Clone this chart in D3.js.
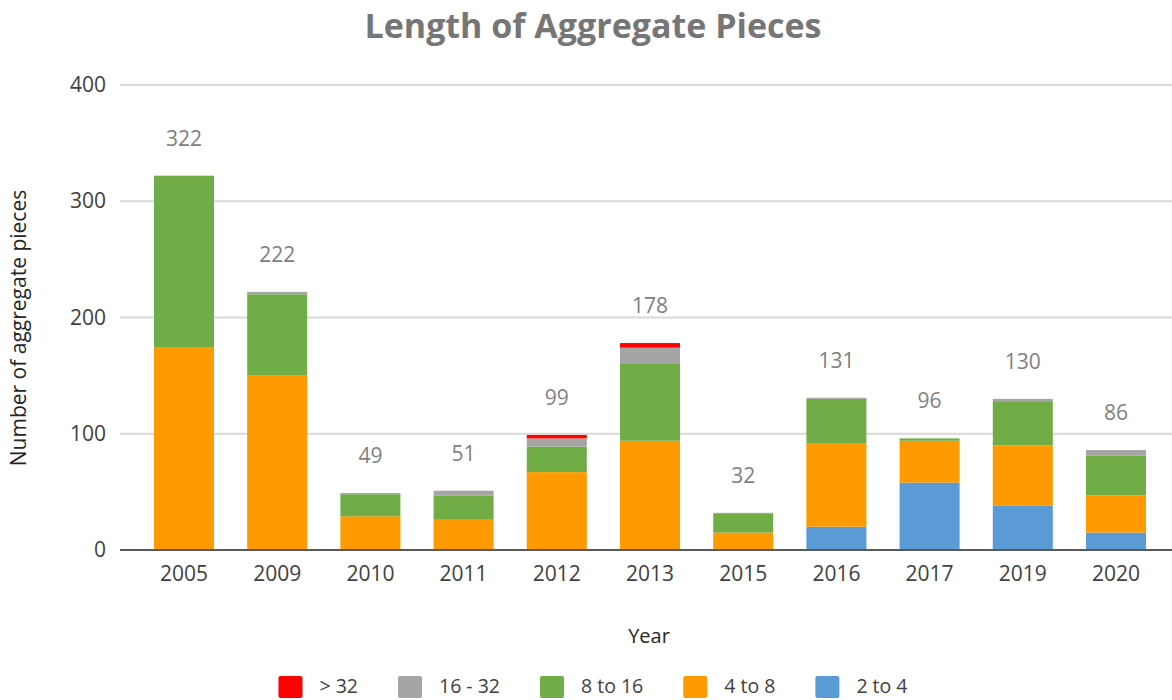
<!DOCTYPE html>
<html><head><meta charset="utf-8">
<script src="https://cdn.jsdelivr.net/npm/d3@7"></script>
<style>body{margin:0;background:#fff;} svg{display:block;}</style>
</head><body>
<svg id="chart" width="1172" height="700"></svg>
<script>
const years = ["2005","2009","2010","2011","2012","2013","2015","2016","2017","2019","2020"];
const seriesNames = ["2 to 4","4 to 8","8 to 16","16 - 32","> 32"];
const s2to4   = [0,   0,   0,  0,  0,  0,  0, 20, 58, 38, 15];
const s4to8   = [174, 150, 29, 26, 67, 94, 15, 72, 36, 52, 32];
const s8to16  = [148, 70,  19, 21, 22, 66, 16, 38,  2, 38, 34];
const s16to32 = [0,   2,   1,  4,  7, 14,  1,  1,  0,  2,  5];
const sOver32 = [0,   0,   0,  0,  3,  4,  0,  0,  0,  0,  0];
const totals  = [322, 222, 49, 51, 99, 178, 32, 131, 96, 130, 86];
const yTicks  = [0, 100, 200, 300, 400];
const colors  = {"2 to 4":"#5B9BD5","4 to 8":"#FF9A00","8 to 16":"#70AD47","16 - 32":"#A5A5A5","> 32":"#FF0000"};
const legendOrder = ["> 32","16 - 32","8 to 16","4 to 8","2 to 4"];

const seriesVals = {"2 to 4":s2to4,"4 to 8":s4to8,"8 to 16":s8to16,"16 - 32":s16to32,"> 32":sOver32};
const table = years.map((y,i)=>{const o={year:y}; seriesNames.forEach(n=>o[n]=seriesVals[n][i]); o.total=totals[i]; return o;});

const font = "'Open Sans', 'Noto Sans', sans-serif";
const svg = d3.select("#chart");
const gridLeft = 120, gridRight = 1172;
const x = d3.scaleBand().domain(years).range([137.4, 1162.6]).paddingInner(0.356).paddingOuter(0.178);
const y = d3.scaleLinear().domain([0,400]).range([550, 85]);

// gridlines
svg.append("g").selectAll("line").data(yTicks.filter(t=>t>0)).join("line")
  .attr("x1",gridLeft).attr("x2",gridRight).attr("y1",d=>y(d)).attr("y2",d=>y(d))
  .attr("stroke","#d9d9d9").attr("stroke-width",2);

// y axis labels
const yAxis = svg.append("g").attr("transform",`translate(${gridLeft},0)`)
  .call(d3.axisLeft(y).tickValues(yTicks).tickSize(0).tickPadding(14));
yAxis.select(".domain").remove();
yAxis.selectAll("text").attr("font-family",font).attr("font-size",21).attr("fill","#404040");

// bars
const stack = d3.stack().keys(seriesNames)(table);
svg.append("g").selectAll("g").data(stack).join("g")
  .attr("fill",d=>colors[d.key])
  .selectAll("rect").data(d=>d).join("rect")
  .attr("x",d=>x(d.data.year)).attr("width",x.bandwidth())
  .attr("y",d=>y(d[1])).attr("height",d=>Math.max(0,y(d[0])-y(d[1])));

// x axis
const xAxis = svg.append("g").attr("transform","translate(0,550)")
  .call(d3.axisBottom(x).tickSize(0).tickPadding(16));
xAxis.select(".domain").remove();
xAxis.selectAll("text").attr("font-family",font).attr("font-size",21).attr("fill","#404040");
svg.append("line").attr("x1",gridLeft).attr("x2",gridRight).attr("y1",550).attr("y2",550)
  .attr("stroke","#595959").attr("stroke-width",2);

// total labels
svg.append("g").selectAll("text").data(table).join("text")
  .attr("x",d=>x(d.year)+x.bandwidth()/2).attr("y",d=>y(d.total)-30)
  .attr("text-anchor","middle").attr("font-family",font).attr("font-size",21).attr("fill","#808080")
  .text(d=>d.total);

// title
svg.append("text").attr("x",593).attr("y",38).attr("text-anchor","middle")
  .attr("font-family",font).attr("font-size",34).attr("font-weight","bold").attr("fill","#767676")
  .text("Length of Aggregate Pieces");

// axis titles
svg.append("text").attr("x",649).attr("y",643).attr("text-anchor","middle")
  .attr("font-family",font).attr("font-size",20).attr("fill","#262626").text("Year");
svg.append("text").attr("transform","translate(26,328) rotate(-90)").attr("text-anchor","middle")
  .attr("font-family",font).attr("font-size",21).attr("fill","#262626").text("Number of aggregate pieces");

// legend
const lg = svg.append("g");
const items = lg.selectAll("g").data(legendOrder).join("g");
items.append("rect").attr("width",24).attr("height",22).attr("y",676).attr("rx",2).attr("fill",d=>colors[d]);
items.append("text").attr("x",41).attr("y",693).attr("font-family",font).attr("font-size",19.5).attr("fill","#404040").text(d=>d);
let cx = 0; const widths=[];
items.each(function(){ const w = 41 + this.querySelector("text").getComputedTextLength(); widths.push(w); });
const gap = 40;
const total = d3.sum(widths) + gap*(widths.length-1);
cx = 593 - total/2;
items.each(function(d,i){ d3.select(this).attr("transform",`translate(${cx},0)`); cx += widths[i]+gap; });
</script>
</body></html>
